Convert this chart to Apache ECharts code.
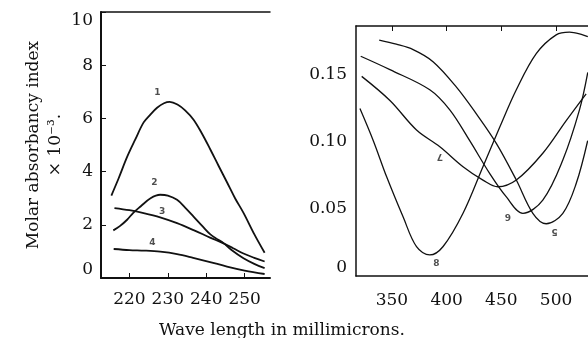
<!DOCTYPE html>
<html>
<head>
<meta charset="utf-8">
<script src="https://cdn.jsdelivr.net/npm/echarts@6/dist/echarts.min.js"></script>
<style>
  html, body { margin: 0; padding: 0; background: #fff; }
  #chart { width: 588px; height: 338px; }
</style>
</head>
<body>
<div id="chart"></div>
<script>
// left panel: molar absorbancy index x 10^-3 vs wave length (mu)
const c1x = [215.3, 217.2, 219.4, 221.5, 223.7, 225.5, 227.2, 229, 230.5, 232.5, 234.5, 236.7, 238.8, 241, 243.2, 245.4, 247.5, 249.7, 252.5, 255.2];
const c1y = [3.1, 3.75, 4.55, 5.2, 5.85, 6.15, 6.4, 6.57, 6.62, 6.52, 6.3, 5.95, 5.45, 4.85, 4.22, 3.6, 3.0, 2.45, 1.65, 0.95];
const c2x = [215.8, 217.5, 219.4, 221, 222.9, 225.5, 228, 230, 232.4, 234.5, 236.7, 239, 241, 243, 244.5, 246.5, 249.7, 252.5, 255.2];
const c2y = [1.79, 1.95, 2.19, 2.45, 2.69, 3.0, 3.13, 3.1, 2.94, 2.65, 2.31, 1.95, 1.65, 1.45, 1.31, 1.06, 0.74, 0.53, 0.37];
const c3x = [216.1, 220, 223.7, 228, 232.4, 236.7, 241, 244.5, 247, 249.7, 252.5, 255.2];
const c3y = [2.63, 2.55, 2.44, 2.28, 2.06, 1.8, 1.52, 1.3, 1.12, 0.92, 0.76, 0.62];
const c4x = [215.9, 220, 224, 228, 232.4, 236.6, 241, 245.4, 250, 255.2];
const c4y = [1.09, 1.05, 1.03, 0.99, 0.9, 0.76, 0.6, 0.43, 0.28, 0.15];

// right panel
const c5x = [338.4, 354, 369.4, 387.6, 409.0, 427.2, 445.4, 463.7, 478.8, 491.0, 506.2, 518.4, 528.9];
const c5y = [0.176, 0.173, 0.169, 0.160, 0.141, 0.121, 0.099, 0.0716, 0.0468, 0.039, 0.0468, 0.069, 0.101];
const c6x = [321.5, 348.2, 384.6, 402.9, 421.1, 439.3, 454.6, 469.7, 487.9, 506.2, 521.4, 529];
const c6y = [0.164, 0.154, 0.139, 0.124, 0.101, 0.0766, 0.059, 0.0468, 0.0567, 0.0866, 0.124, 0.152];
const c7x = [322.4, 348.2, 372.5, 393.8, 415.0, 433.2, 446.9, 463.7, 487.9, 509.3, 527.5];
const c7y = [0.149, 0.131, 0.109, 0.0965, 0.0816, 0.0716, 0.0666, 0.0716, 0.0916, 0.116, 0.136];
const c8x = [320.8, 333.0, 345.2, 360.3, 372.5, 384.6, 396.8, 415.0, 433.2, 448.5, 463.7, 481.9, 500.1, 512.3, 524.4, 529];
const c8y = [0.125, 0.101, 0.074, 0.044, 0.0219, 0.0157, 0.022, 0.0468, 0.0816, 0.111, 0.139, 0.166, 0.180, 0.182, 0.180, 0.1786];

const leftTicks = [220, 230, 240, 250];
const leftYTicks = [0, 2, 4, 6, 8, 10];
const rightTicks = [350, 400, 450, 500];
const rightYTicks = [0, 0.05, 0.10, 0.15];
const rightYLabels = ['0', '0.05', '0.10', '0.15'];

// curve numbers: [text, x, y, upside down]
const leftNums = [['1', 227.3, 6.95], ['2', 226.5, 3.58], ['3', 228.5, 2.5], ['4', 226, 1.33]];
const rightNums = [['7', 393.8, 0.089, true], ['6', 456, 0.0443, true], ['5', 498.6, 0.033, true], ['8', 390.7, 0.0095, false]];

const serif = 'DejaVu Serif';
const zip = (xs, ys) => xs.map((x, i) => [x, ys[i]]);

const chart = echarts.init(document.getElementById('chart'), null, { renderer: 'canvas' });

const line = (xs, ys, idx, width) => ({
  type: 'line',
  xAxisIndex: idx,
  yAxisIndex: idx,
  data: zip(xs, ys),
  smooth: 0.35,
  symbol: 'none',
  lineStyle: { color: '#111', width: width },
  silent: true,
  animation: false
});

const nums = (list, idx) => ({
  type: 'scatter',
  xAxisIndex: idx,
  yAxisIndex: idx,
  symbolSize: 0,
  silent: true,
  animation: false,
  data: list.map(([t, x, y, flip]) => ({
    value: [x, y],
    label: {
      show: true,
      position: 'inside',
      formatter: t,
      rotate: flip ? 180 : 0,
      fontFamily: 'DejaVu Sans',
      fontSize: 9,
      fontWeight: 'bold',
      color: '#222'
    }
  }))
});

const axisText = { fontFamily: serif, fontSize: 17, color: '#111' };

chart.setOption({
  backgroundColor: '#fff',
  animation: false,
  title: {
    text: 'Wave length in millimicrons.',
    left: 154,
    top: 317,
    textStyle: { fontFamily: serif, fontSize: 17, fontWeight: 'normal', color: '#111' }
  },
  grid: [
    { left: 101, top: 12, right: 318, bottom: 60 },
    { left: 356, top: 26, right: -2, bottom: 62 }
  ],
  xAxis: [
    {
      gridIndex: 0, type: 'value', min: 212.6, max: 256.6,
      axisLine: { lineStyle: { color: '#111', width: 2 } },
      axisTick: { inside: true, length: 5, customValues: leftTicks, lineStyle: { color: '#111' } },
      axisLabel: { customValues: leftTicks, margin: 13, ...axisText },
      splitLine: { show: false }
    },
    {
      gridIndex: 1, type: 'value', min: 317.2, max: 529.2,
      axisLine: { lineStyle: { color: '#111', width: 1.5 } },
      axisTick: { show: false },
      axisLabel: { customValues: rightTicks, margin: 16, ...axisText },
      splitLine: { show: false }
    },
    {
      gridIndex: 0, type: 'value', position: 'top', min: 212.6, max: 256.6,
      axisLine: { lineStyle: { color: '#111', width: 1.5 } },
      axisTick: { show: false }, axisLabel: { show: false }, splitLine: { show: false }
    },
    {
      gridIndex: 1, type: 'value', position: 'top', min: 317.2, max: 529.2,
      axisLine: { lineStyle: { color: '#111', width: 1.5 } },
      axisTick: { inside: true, length: 5, customValues: rightTicks, lineStyle: { color: '#111' } },
      axisLabel: { show: false }, splitLine: { show: false }
    }
  ],
  yAxis: [
    {
      gridIndex: 0, type: 'value', min: 0, max: 10,
      name: 'Molar absorbancy index\n× 10⁻³.',
      nameLocation: 'middle',
      nameGap: 34,
      nameTextStyle: { fontFamily: serif, fontSize: 17, color: '#111', lineHeight: 22 },
      axisLine: { show: true, lineStyle: { color: '#111', width: 2 } },
      axisTick: { inside: true, length: 5, customValues: leftYTicks, lineStyle: { color: '#111' } },
      axisLabel: {
        customValues: leftYTicks, margin: 8, ...axisText,
        verticalAlignMinLabel: 'bottom', verticalAlignMaxLabel: 'top'
      },
      splitLine: { show: false }
    },
    {
      gridIndex: 1, type: 'value', min: 0, max: 0.1866,
      axisLine: { show: true, lineStyle: { color: '#111', width: 1.5 } },
      axisTick: { show: false },
      axisLabel: {
        customValues: rightYTicks, margin: 9, ...axisText,
        verticalAlignMinLabel: 'bottom',
        formatter: (v) => rightYLabels[rightYTicks.findIndex((t) => Math.abs(t - v) < 1e-6)] ?? ''
      },
      splitLine: { show: false }
    }
  ],
  series: [
    line(c1x, c1y, 0, 1.8),
    line(c2x, c2y, 0, 1.8),
    line(c3x, c3y, 0, 1.8),
    line(c4x, c4y, 0, 1.8),
    line(c5x, c5y, 1, 1.3),
    line(c6x, c6y, 1, 1.3),
    line(c7x, c7y, 1, 1.3),
    line(c8x, c8y, 1, 1.3),
    nums(leftNums, 0),
    nums(rightNums, 1)
  ]
});
</script>
</body>
</html>
